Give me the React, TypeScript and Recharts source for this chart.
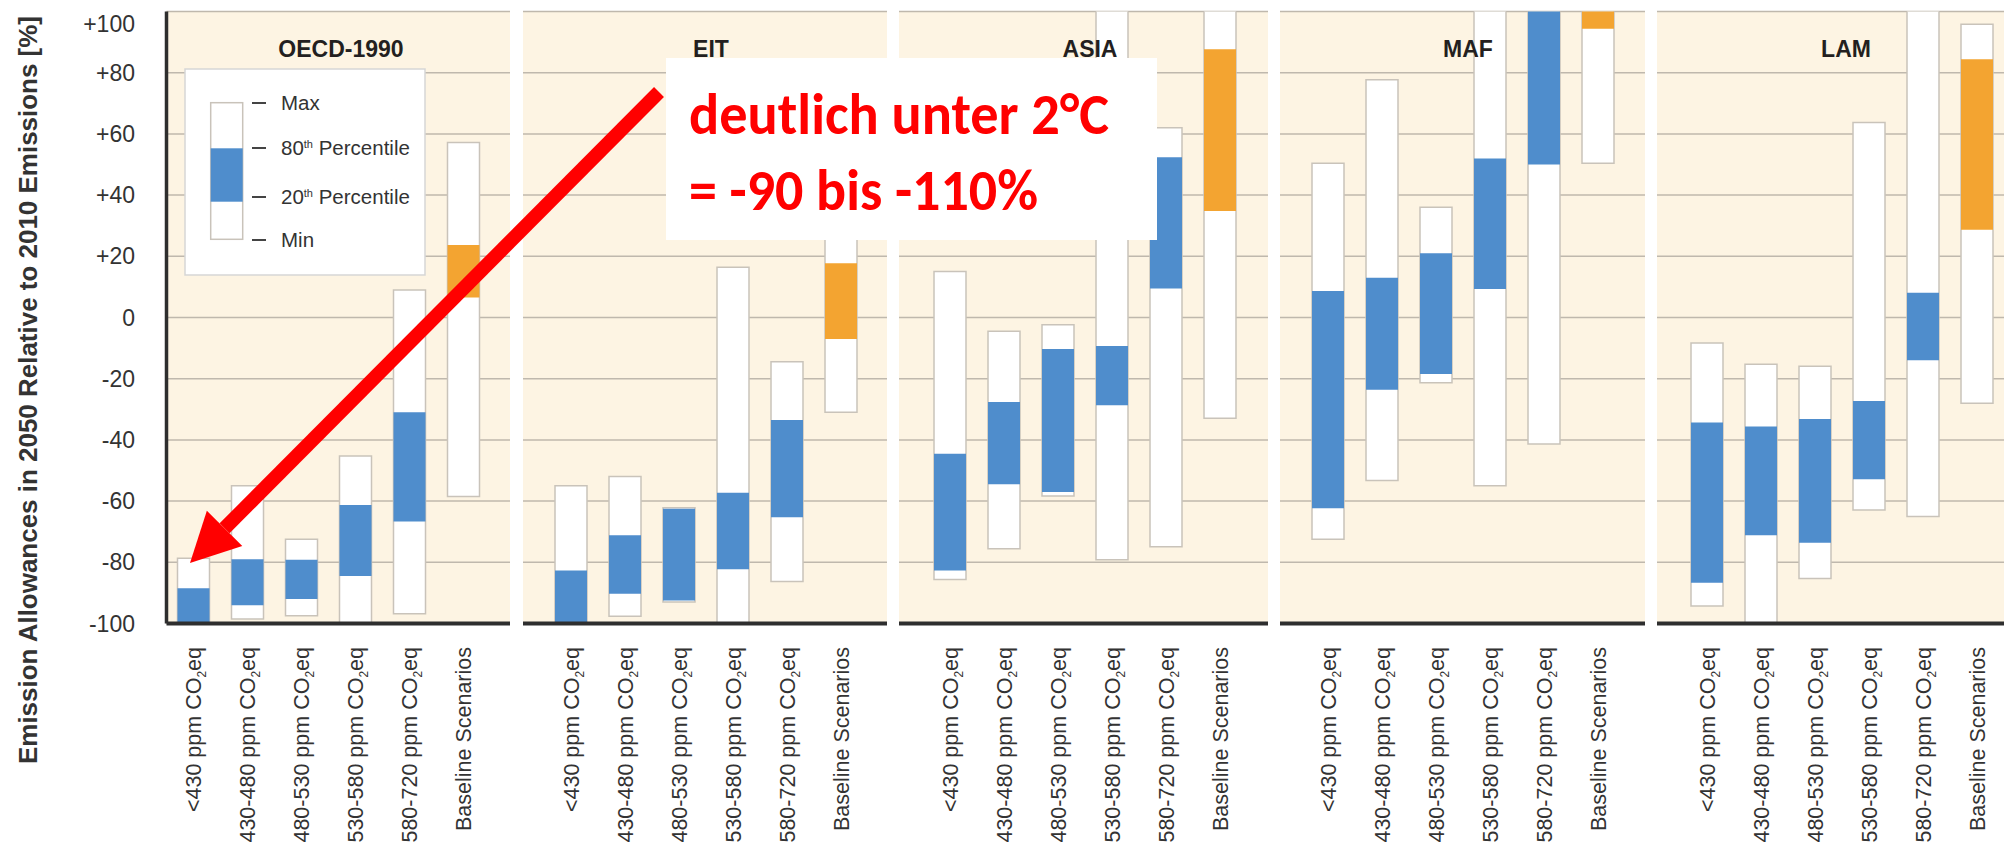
import React from 'react';
import { BarChart, Bar, XAxis, YAxis, CartesianGrid, Cell } from 'recharts';

// ---------- data ----------
const categories = [
  '<430 ppm CO2eq',
  '430-480 ppm CO2eq',
  '480-530 ppm CO2eq',
  '530-580 ppm CO2eq',
  '580-720 ppm CO2eq',
  'Baseline Scenarios',
];
const regionNames = ['OECD-1990', 'EIT', 'ASIA', 'MAF', 'LAM'];
const yTicks = [-100, -80, -60, -40, -20, 0, 20, 40, 60, 80, 100];

const oecdMin = [-105, -98.5, -97.5, -101, -96.8, -58.5];
const oecdP20 = [-102, -94, -92, -84.5, -66.7, 6.5];
const oecdP80 = [-88.5, -79, -79.2, -61.3, -31, 23.7];
const oecdMax = [-78.7, -55, -72.5, -45.3, 9, 57.2];

const eitMin = [-105, -97.6, -93, -101, -86.3, -31];
const eitP20 = [-102, -90.3, -92.5, -82.3, -65.3, -7];
const eitP80 = [-82.7, -71.2, -62.5, -57.3, -33.5, 17.7];
const eitMax = [-55, -52, -62.2, 16.4, -14.5, 30];

const asiaMin = [-85.6, -75.6, -58.3, -79.2, -74.9, -32.9];
const asiaP20 = [-82.7, -54.5, -57, -28.7, 9.5, 34.8];
const asiaP80 = [-44.5, -27.6, -10.3, -9.3, 52.4, 87.7];
const asiaMax = [15, -4.5, -2.4, 106, 62, 101];

const mafMin = [-72.5, -53.3, -21.3, -55, -41.3, 50.4];
const mafP20 = [-62.3, -23.6, -18.5, 9.3, 50, 94.4];
const mafP80 = [8.7, 13, 21, 52, 108, 105];
const mafMax = [50.4, 77.7, 36, 110, 115, 112];

const lamMin = [-94.3, -105, -85.3, -62.9, -65, -28];
const lamP20 = [-86.7, -71.2, -73.6, -52.9, -14, 28.7];
const lamP80 = [-34.3, -35.6, -33.2, -27.3, 8.1, 84.4];
const lamMax = [-8.3, -15.3, -15.9, 63.7, 101, 95.8];

const regionMin = [oecdMin, eitMin, asiaMin, mafMin, lamMin];
const regionP20 = [oecdP20, eitP20, asiaP20, mafP20, lamP20];
const regionP80 = [oecdP80, eitP80, asiaP80, mafP80, lamP80];
const regionMax = [oecdMax, eitMax, asiaMax, mafMax, lamMax];

const legendLabels = ['Max', '80th Percentile', '20th Percentile', 'Min'];
const annotationLines = ['deutlich unter 2°C', '= -90 bis -110%'];
const yAxisTitle = 'Emission Allowances in 2050 Relative to 2010 Emissions [%]';

// ---------- style / layout ----------
const BLUE = '#4f8dcc';
const ORANGE = '#f3a431';
const CREAM = '#fdf4e3';
const GRID = '#bfb8ad';
const BAR_STROKE = '#c9c3ba';
const DARK = '#2e2e2e';
const TEXT = '#333333';
const FONT = '"Liberation Sans", Arial, sans-serif';
const ANNO_FONT = 'Calibri, Carlito, "Open Sans", Lato, sans-serif';
const CHART_H = 850;
const PLOT_TOP = 11.5;
const PLOT_BOTTOM = 623.5;
const X_LABEL_TOP = 647;
const BAR_SIZE = 32;

const panelLayout = [
  { left: 0, width: 510, yAxisWidth: 166.5, padL: 0, padR: 19.5, titleX: 341 },
  { left: 523, width: 364, yAxisWidth: 0, padL: 21, padR: 19, titleX: 711 },
  { left: 899, width: 369, yAxisWidth: 0, padL: 24, padR: 21, titleX: 1090 },
  { left: 1280, width: 365, yAxisWidth: 0, padL: 21, padR: 20, titleX: 1468 },
  { left: 1657, width: 347, yAxisWidth: 0, padL: 23, padR: 0, titleX: 1846 },
];

const XTick = (props: any) => {
  const { x, payload } = props;
  const label: string = String(payload.value);
  const m = label.match(/^(.*CO)2(eq)$/);
  return (
    <g transform={`translate(${x},${X_LABEL_TOP})`}>
      <text
        transform="rotate(-90)"
        textAnchor="end"
        dy="0.35em"
        fontFamily={FONT}
        fontSize={21.5}
        fill={TEXT}
      >
        {m ? (
          <>
            {m[1]}
            <tspan fontSize={12} dy={5}>2</tspan>
            <tspan dy={-5}>{m[2]}</tspan>
          </>
        ) : (
          label
        )}
      </text>
    </g>
  );
};

const YTick = (props: any) => {
  const { x, y, payload } = props;
  const v = Number(payload.value);
  const label = v > 0 ? `+${v}` : `${v}`;
  return (
    <text
      x={x}
      y={y + (v === 100 ? 12 : 0)}
      dy="0.35em"
      textAnchor="end"
      fontFamily={FONT}
      fontSize={23}
      fill={TEXT}
    >
      {label}
    </text>
  );
};

function Panel({ idx }: { idx: number }) {
  const L = panelLayout[idx];
  const data = categories.map((c, i) => ({
    cat: c,
    range: [regionMin[idx][i], regionMax[idx][i]],
    mid: [regionP20[idx][i], regionP80[idx][i]],
    baseline: i === categories.length - 1,
  }));
  return (
    <div style={{ position: 'absolute', left: L.left, top: 0 }}>
      <BarChart
        width={L.width}
        height={CHART_H}
        data={data}
        margin={{ top: PLOT_TOP, right: 0, bottom: 0, left: 0 }}
        barSize={BAR_SIZE}
        barGap={-BAR_SIZE}
      >
        <CartesianGrid
          vertical={false}
          fill={CREAM}
          fillOpacity={1}
          stroke={GRID}
          strokeWidth={1.5}
        />
        <XAxis
          dataKey="cat"
          type="category"
          height={CHART_H - PLOT_BOTTOM}
          padding={{ left: L.padL, right: L.padR }}
          tickLine={false}
          axisLine={{ stroke: DARK, strokeWidth: 4 }}
          tick={<XTick />}
          interval={0}
        />
        <YAxis
          hide={idx > 0}
          width={L.yAxisWidth}
          type="number"
          domain={[-100, 100]}
          ticks={yTicks}
          allowDataOverflow
          interval={0}
          tickLine={false}
          tickSize={0}
          tickMargin={31.5}
          axisLine={{ stroke: DARK, strokeWidth: 3.5 }}
          tick={<YTick />}
        />
        <Bar
          dataKey="range"
          fill="#ffffff"
          stroke={BAR_STROKE}
          strokeWidth={1.5}
          isAnimationActive={false}
        />
        <Bar dataKey="mid" isAnimationActive={false}>
          {data.map((d, i) => (
            <Cell key={i} fill={d.baseline ? ORANGE : BLUE} />
          ))}
        </Bar>
      </BarChart>
    </div>
  );
}

function Overlay() {
  // arrow geometry
  const tip = { x: 190, y: 563 };
  const tail = { x: 659, y: 92 };
  const dx = tail.x - tip.x;
  const dy = tail.y - tip.y;
  const len = Math.sqrt(dx * dx + dy * dy);
  const ux = dx / len;
  const uy = dy / len;
  const nx = -uy;
  const ny = ux;
  const headLen = 49;
  const headHalf = 25;
  const bx = tip.x + ux * headLen;
  const by = tip.y + uy * headLen;
  const legendY = [103, 148, 197, 240];
  return (
    <svg
      width={2004}
      height={850}
      style={{ position: 'absolute', left: 0, top: 0, pointerEvents: 'none' }}
    >
      {/* y axis title */}
      <text
        transform="translate(28.5,390) rotate(-90)"
        textAnchor="middle"
        dy="0.35em"
        fontFamily={FONT}
        fontWeight="bold"
        fontSize={25}
        fill={TEXT}
        textLength={748}
        lengthAdjust="spacingAndGlyphs"
      >
        {yAxisTitle}
      </text>
      {/* panel titles */}
      {regionNames.map((n, i) => (
        <text
          key={n}
          x={panelLayout[i].titleX}
          y={57}
          textAnchor="middle"
          fontFamily={FONT}
          fontWeight="bold"
          fontSize={23}
          fill="#231f20"
        >
          {n}
        </text>
      ))}
      {/* legend */}
      <rect x={185} y={69} width={240} height={206} fill="#ffffff" stroke="#d6d6d6" strokeWidth={1.5} />
      <rect x={210.7} y={102.7} width={32} height={136.6} fill="#ffffff" stroke={BAR_STROKE} strokeWidth={1.5} />
      <rect x={210.7} y={148.3} width={32} height={53.4} fill={BLUE} />
      {legendLabels.map((lab, i) => {
        const m = lab.match(/^(\d+)th (.*)$/);
        return (
          <g key={lab}>
            <line x1={252} x2={266} y1={legendY[i]} y2={legendY[i]} stroke="#444" strokeWidth={2} />
            <text x={281} y={legendY[i]} dy="0.35em" fontFamily={FONT} fontSize={20.5} fill={TEXT}>
              {m ? (
                <>
                  {m[1]}
                  <tspan fontSize={11} dy={-7}>th</tspan>
                  <tspan dy={7}>{' ' + m[2]}</tspan>
                </>
              ) : (
                lab
              )}
            </text>
          </g>
        );
      })}
      {/* annotation arrow */}
      <line x1={bx} y1={by} x2={tail.x} y2={tail.y} stroke="#ff0000" strokeWidth={14} />
      <polygon
        points={`${tip.x},${tip.y} ${bx + nx * headHalf},${by + ny * headHalf} ${bx - nx * headHalf},${by - ny * headHalf}`}
        fill="#ff0000"
      />
      {/* annotation box */}
      <rect x={666} y={58} width={491} height={182} fill="#ffffff" />
      <text
        x={689}
        y={134}
        fontFamily={ANNO_FONT}
        fontWeight="bold"
        fontSize={59}
        fill="#ff0000"
        textLength={420}
        lengthAdjust="spacingAndGlyphs"
      >
        {annotationLines[0]}
      </text>
      <text
        x={689}
        y={210}
        fontFamily={ANNO_FONT}
        fontWeight="bold"
        fontSize={59}
        fill="#ff0000"
        textLength={349}
        lengthAdjust="spacingAndGlyphs"
      >
        {annotationLines[1]}
      </text>
    </svg>
  );
}

export default function App() {
  return (
    <div
      style={{
        position: 'absolute',
        left: 0,
        top: 0,
        width: 2004,
        height: 850,
        background: '#ffffff',
        overflow: 'hidden',
      }}
    >
      {regionNames.map((n, i) => (
        <Panel key={n} idx={i} />
      ))}
      <Overlay />
    </div>
  );
}
